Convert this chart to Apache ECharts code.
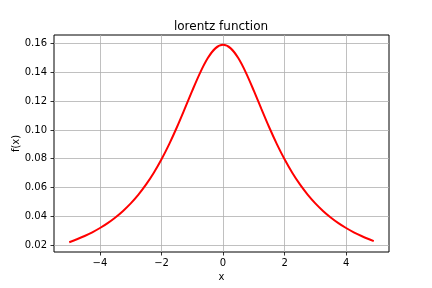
<!DOCTYPE html>
<html><head><meta charset="utf-8">
<script src="https://cdn.jsdelivr.net/npm/echarts@6/dist/echarts.min.js"></script>
<style>html,body{margin:0;padding:0;background:#fff}#c{width:432px;height:288px}</style>
</head><body><div id="c"></div>
<script>
var xValues = [-5, -4.75, -4.5, -4.25, -4, -3.75, -3.5, -3.25, -3, -2.75, -2.5, -2.25, -2, -1.75, -1.5, -1.25, -1, -0.75, -0.5, -0.25, 0,
  0.25, 0.5, 0.75, 1, 1.25, 1.5, 1.75, 2, 2.25, 2.5, 2.75, 3, 3.25, 3.5, 3.75, 4, 4.25, 4.5, 4.75, 4.9];
var yValues = [0.02195, 0.02397, 0.02625, 0.02885, 0.03183, 0.03525, 0.03918, 0.04372, 0.04897, 0.05506, 0.06211, 0.07025, 0.07958, 0.09014, 0.10186, 0.11445, 0.12732, 0.13953, 0.14979, 0.15671, 0.15916,
  0.15671, 0.14979, 0.13953, 0.12732, 0.11445, 0.10186, 0.09014, 0.07958, 0.07025, 0.06211, 0.05506, 0.04897, 0.04372, 0.03918, 0.03525, 0.03183, 0.02885, 0.02625, 0.02397, 0.02273];
var xTicks = [-4, -2, 0, 2, 4];
var yTicks = [0.02, 0.04, 0.06, 0.08, 0.10, 0.12, 0.14, 0.16];
var titleText = 'lorentz function';
var xName = 'x';
var yName = 'f(x)';

var data = xValues.map(function (x, i) { return [x, yValues[i]]; });
var font = 'DejaVu Sans';
var chart = echarts.init(document.getElementById('c'), null, {renderer: 'canvas'});
chart.setOption({
  animation: false,
  backgroundColor: '#fff',
  title: {text: titleText, left: 216, top: 16, textAlign: 'center',
    textStyle: {fontFamily: font, fontSize: 12, fontWeight: 'normal', color: '#000'}},
  grid: {left: 54, right: 43, top: 35, bottom: 36, show: true, borderColor: '#000', borderWidth: 1,
    backgroundColor: 'transparent', containLabel: false, outerBoundsMode: 'none'},
  xAxis: {
    type: 'value', min: -5.495, max: 5.395,
    name: xName, nameLocation: 'middle', nameGap: 20, nameMoveOverlap: false,
    nameTextStyle: {fontFamily: font, fontSize: 10, color: '#000'},
    axisLine: {show: false, onZero: false},
    axisTick: {show: true, length: 3.5, customValues: xTicks, lineStyle: {color: '#000', width: 0.8}},
    axisLabel: {customValues: xTicks, margin: 6, fontFamily: font, fontSize: 10, color: '#000',
      formatter: function (v) { return String(v).replace('-', '\u2212'); }},
    splitLine: {show: true, lineStyle: {color: '#b0b0b0', width: 0.8}}
  },
  yAxis: {
    type: 'value', min: 0.01514, max: 0.16601,
    name: yName, nameLocation: 'middle', nameGap: 33, nameRotate: 90, nameMoveOverlap: false,
    nameTextStyle: {fontFamily: font, fontSize: 10, color: '#000'},
    axisLine: {show: false, onZero: false},
    axisTick: {show: true, length: 3.5, customValues: yTicks, lineStyle: {color: '#000', width: 0.8}},
    axisLabel: {customValues: yTicks, margin: 7, fontFamily: font, fontSize: 10, color: '#000',
      formatter: function (v) { return v.toFixed(2); }},
    splitLine: {show: true, lineStyle: {color: '#b0b0b0', width: 0.8}}
  },
  series: [{
    type: 'line', data: data, smooth: 0.3, symbol: 'none',
    lineStyle: {color: '#ff0000', width: 2}, z: 3
  }]
});
</script></body></html>
